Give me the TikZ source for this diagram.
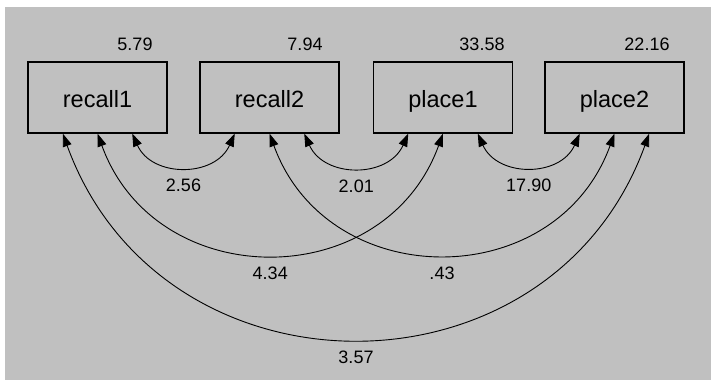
\documentclass[tikz,border=0pt]{standalone}
\usepackage{fontspec}
\setmainfont{Liberation Sans}
\usetikzlibrary{arrows.meta}
\definecolor{winGray}{HTML}{C0C0C0}
\begin{document}
\begin{tikzpicture}[x=1pt,y=1pt,
  obs/.style={draw, line width=1.1pt, minimum width=139pt, minimum height=71pt,
    inner sep=0pt, text height=22pt, text depth=3pt,
    font=\fontsize{23.5}{28}\selectfont},
  var/.style={inner sep=0pt, font=\fontsize{18}{21}\selectfont},
  cov/.style={line width=0.9pt,
    {Triangle[length=13pt,width=9pt]}-{Triangle[length=13pt,width=9pt]}},
  est/.style={inner sep=0pt, font=\fontsize{18}{21}\selectfont, yshift=-19pt, pos=0.5},
  small/.style={out=-66, in=-114, looseness=1.21},
  big/.style={out=-70, in=-110, looseness=1.27}
]
\useasboundingbox (0,0) rectangle (711,-380);
\fill[white] (0,0) rectangle (711,-380);
\fill[winGray] (5,-7) rectangle (711,-380);

\node[obs] (r1) at (97.5,-97.5) {recall1};
\node[obs] (r2) at (269.5,-97.5) {recall2};
\node[obs] (p1) at (443,-97.5) {place1};
\node[obs] (p2) at (614.5,-97.5) {place2};

\node[var] (v1) at (135,-44.5) {5.79};
\node[var] (v2) at (305,-44.5) {7.94};
\node[var] (v3) at (482,-44.5) {33.58};
\node[var] (v4) at (647,-44.5) {22.16};

\draw[cov] ([xshift=34.75pt]r1.south) to[small] node[est] (c1) {2.56} ([xshift=-34.75pt]r2.south);
\draw[cov] ([xshift=34.75pt]r2.south) to[small] node[est] (c2) {2.01} ([xshift=-34.75pt]p1.south);
\draw[cov] ([xshift=34.75pt]p1.south) to[small] node[est] (c3) {17.90} ([xshift=-34.75pt]p2.south);
\draw[cov] (r1.south) to[big] node[est] (c4) {4.34} (p1.south);
\draw[cov] (r2.south) to[big] node[est] (c5) {.43} (p2.south);
\draw[cov] ([xshift=-34.75pt]r1.south) to[big] node[est] (c6) {3.57} ([xshift=34.75pt]p2.south);
\end{tikzpicture}
\end{document}
